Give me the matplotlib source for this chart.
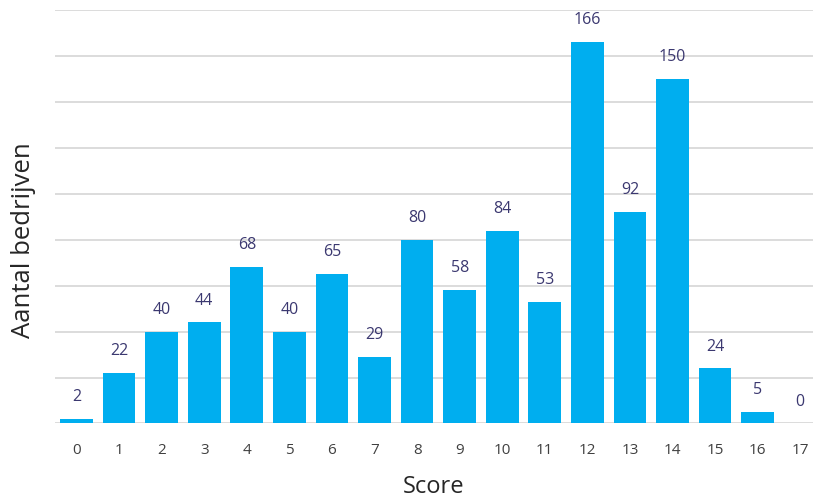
import matplotlib.pyplot as plt

plt.rcParams['font.family'] = ['Open Sans', 'DejaVu Sans']

scores = list(range(18))
bedrijven = [2, 22, 40, 44, 68, 40, 65, 29, 80, 58, 84, 53, 166, 92, 150, 24, 5, 0]

fig = plt.figure(figsize=(8.13, 4.98), dpi=100)
ax = fig.add_axes([0.0677, 0.1496, 0.9323, 0.8304])

bars = ax.bar(scores, bedrijven, width=0.77, color='#00AEEF', zorder=3)
for x, v in zip(scores, bedrijven):
    ax.text(x, v + 9.5, str(v), ha='center', va='center', fontsize=11.5, color='#3B3870')

ax.set_xlim(-0.505, 17.3)
ax.set_ylim(0, 180)
ax.set_yticks(range(0, 181, 20))
ax.set_yticklabels([])
ax.tick_params(axis='y', length=0)
ax.grid(axis='y', color='#D9D9D9', linewidth=1.3, zorder=0)
ax.set_xticks(scores)
ax.tick_params(axis='x', length=0, pad=14, labelsize=11, labelcolor='#404040')
for s in ax.spines.values():
    s.set_visible(False)

ax.set_xlabel('Score', fontsize=17, color='#262626', labelpad=12)
ax.set_ylabel('Aantal bedrijven', fontsize=18.5, color='#262626', va='center')
ax.yaxis.set_label_coords(-0.041, 0.444)

fig.savefig('out.png', dpi=100)
